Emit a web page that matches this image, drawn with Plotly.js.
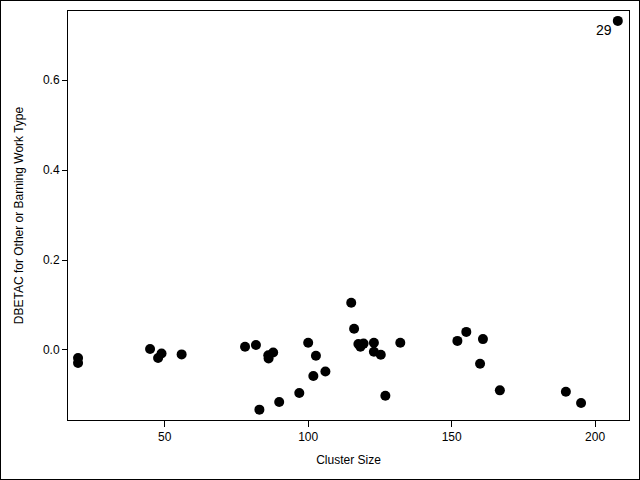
<!DOCTYPE html>
<html>
<head>
<meta charset="utf-8">
<script src="https://cdn.plot.ly/plotly-3.0.1.min.js"></script>
<style>
  body { margin: 0; padding: 0; background: #fff; }
  #frame { width: 640px; height: 480px; box-sizing: border-box; border: 1px solid #000; }
  #chart { width: 638px; height: 478px; }
</style>
</head>
<body>
<div id="frame"><div id="chart"></div></div>
<script>
const clusterSize = [19.8, 19.8, 44.9, 47.7, 48.9, 55.9, 78.0, 81.8, 83.0, 86.1, 86.2, 87.8,
  89.9, 96.9, 100.0, 101.8, 102.7, 106.0, 115.0, 116.0, 117.5, 118.2, 119.3, 122.9, 122.9,
  125.3, 126.9, 132.1, 152.0, 155.1, 159.9, 160.9, 166.8, 189.8, 195.1, 207.9];
const dbetac = [-0.018, -0.029, 0.002, -0.018, -0.008, -0.010, 0.007, 0.011, -0.133, -0.012,
  -0.019, -0.006, -0.116, -0.096, 0.016, -0.058, -0.013, -0.048, 0.105, 0.047, 0.013, 0.007,
  0.014, 0.016, -0.004, -0.011, -0.102, 0.016, 0.020, 0.040, -0.031, 0.024, -0.090, -0.093,
  -0.118, 0.732];
const labelIndex = 35;
const labelText = "29";
const xTicks = [50, 100, 150, 200];
const yTicks = [0.0, 0.2, 0.4, 0.6];

const font = { family: "Liberation Sans, Arial, sans-serif", color: "#000" };

Plotly.newPlot("chart", [{
  type: "scatter",
  mode: "markers",
  x: clusterSize,
  y: dbetac,
  marker: { color: "#000", size: 10 },
  hoverinfo: "x+y",
  cliponaxis: false
}], {
  width: 638,
  height: 478,
  margin: { l: 67, r: 10, t: 10, b: 59 },
  paper_bgcolor: "#fff",
  plot_bgcolor: "#fff",
  showlegend: false,
  font: Object.assign({}, font, { size: 12 }),
  annotations: [{
    x: clusterSize[labelIndex], y: dbetac[labelIndex],
    xref: "x", yref: "y",
    text: labelText, showarrow: false,
    xanchor: "right", yanchor: "middle",
    xshift: -4, yshift: -9,
    font: Object.assign({}, font, { size: 14 })
  }],
  xaxis: {
    range: [16.3, 211.8],
    tickvals: xTicks,
    ticktext: xTicks.map(String),
    ticks: "outside", ticklen: 6, tickcolor: "#000", tickwidth: 1,
    showline: true, mirror: true, linecolor: "#000", linewidth: 1,
    showgrid: false, zeroline: false,
    tickfont: Object.assign({}, font, { size: 12 }),
    title: { text: "Cluster Size", font: Object.assign({}, font, { size: 12 }), standoff: 12 }
  },
  yaxis: {
    range: [-0.156, 0.754],
    tickvals: yTicks,
    ticktext: yTicks.map(v => v.toFixed(1)),
    ticks: "outside", ticklen: 5, tickcolor: "#000", tickwidth: 1,
    showline: true, mirror: true, linecolor: "#000", linewidth: 1,
    showgrid: false, zeroline: false,
    tickfont: Object.assign({}, font, { size: 12 }),
    title: { text: "DBETAC for Other or Barning Work Type", font: Object.assign({}, font, { size: 12 }), standoff: 16 }
  }
}, { displayModeBar: false, staticPlot: true });
</script>
</body>
</html>
